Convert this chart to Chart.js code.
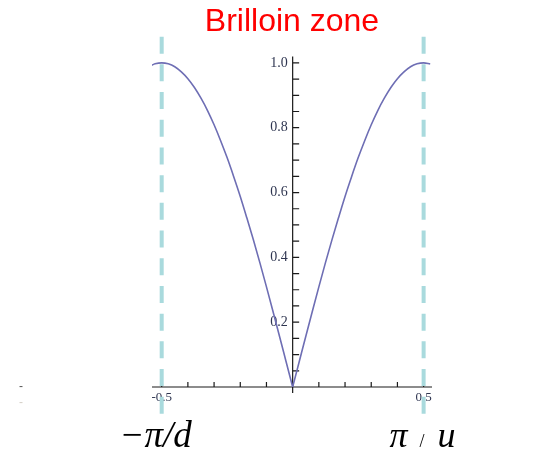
<!DOCTYPE html>
<html>
<head>
<meta charset="utf-8">
<script src="https://cdn.jsdelivr.net/npm/chart.js@4/dist/chart.umd.min.js"></script>
<style>
  html, body { margin: 0; padding: 0; background: #fff; }
</style>
</head>
<body>
<canvas id="zona" width="553" height="460"></canvas>
<script>
// |sin(k d / 2)| across the first zone, split at the cusp
const kLeft = [-0.54, -0.525, -0.5, -0.475, -0.45, -0.425, -0.4, -0.375, -0.35, -0.325, -0.3,
  -0.275, -0.25, -0.225, -0.2, -0.175, -0.15, -0.125, -0.1, -0.075, -0.05, -0.025, 0];
const bandLeft = [0.992, 0.997, 1.0, 0.997, 0.988, 0.972, 0.951, 0.924, 0.891, 0.853, 0.809,
  0.760, 0.707, 0.649, 0.588, 0.522, 0.454, 0.383, 0.309, 0.233, 0.156, 0.078, 0];
const kRight = [0, 0.025, 0.05, 0.075, 0.1, 0.125, 0.15, 0.175, 0.2, 0.225, 0.25, 0.275, 0.3,
  0.325, 0.35, 0.375, 0.4, 0.425, 0.45, 0.475, 0.5, 0.525];
const bandRight = [0, 0.078, 0.156, 0.233, 0.309, 0.383, 0.454, 0.522, 0.588, 0.649, 0.707, 0.760, 0.809,
  0.853, 0.891, 0.924, 0.951, 0.972, 0.988, 0.997, 1.0, 0.997];

const zoneEdges = [-0.5, 0.5];
const xTicks = [-0.5, -0.4, -0.3, -0.2, -0.1, 0.1, 0.2, 0.3, 0.4, 0.5];
const xTickLabels = ['-0.5', '0.5'];
const yTicks = [0.05, 0.1, 0.15, 0.2, 0.25, 0.3, 0.35, 0.4, 0.45, 0.5,
  0.55, 0.6, 0.65, 0.7, 0.75, 0.8, 0.85, 0.9, 0.95, 1.0];
const yTickLabels = ['0.2', '0.4', '0.6', '0.8', '1.0'];

const branch = (ks, vals) => ({
  data: ks.map((k, i) => ({ x: k, y: vals[i] })),
  showLine: true,
  borderColor: '#6e6eb4',
  borderWidth: 1.6,
  pointRadius: 0,
  cubicInterpolationMode: 'monotone'
});

const edgeLines = zoneEdges.map(k => ({
  data: [{ x: k, y: 1.081 }, { x: k, y: -0.084 }],
  showLine: true,
  borderColor: '#a9dadd',
  borderWidth: 4,
  borderDash: [17, 10.7],
  pointRadius: 0,
  clip: false
}));

// axes crossing at the origin, ticks on the inside
const centerAxes = {
  id: 'centerAxes',
  beforeDatasetsDraw(chart) {
    const { ctx, chartArea, scales: { x, y } } = chart;
    const x0 = x.getPixelForValue(0);
    const y0 = y.getPixelForValue(0);
    ctx.save();
    ctx.strokeStyle = '#1a1a1a';
    ctx.lineWidth = 1.2;
    ctx.beginPath();
    ctx.moveTo(chartArea.left, y0);
    ctx.lineTo(chartArea.right, y0);
    ctx.moveTo(x0, chartArea.top);
    ctx.lineTo(x0, y0 + 6);
    xTicks.forEach(v => {
      const px = x.getPixelForValue(v);
      ctx.moveTo(px, y0);
      ctx.lineTo(px, y0 - 5);
    });
    yTicks.forEach(v => {
      const py = y.getPixelForValue(v);
      ctx.moveTo(x0, py);
      ctx.lineTo(x0 + 6.5, py);
    });
    ctx.stroke();

    ctx.fillStyle = '#2e3550';
    ctx.font = '14px "Liberation Serif"';
    ctx.textAlign = 'right';
    ctx.textBaseline = 'middle';
    yTickLabels.forEach(t => {
      ctx.fillText(t, x0 - 5, y.getPixelForValue(parseFloat(t)));
    });
    ctx.textAlign = 'center';
    ctx.textBaseline = 'top';
    ctx.font = '13px "Liberation Serif"';
    xTickLabels.forEach(t => {
      ctx.fillText(t, x.getPixelForValue(parseFloat(t)), y0 + 4);
    });

    ctx.fillStyle = '#555';
    ctx.font = '12px "Liberation Sans"';
    ctx.textAlign = 'center';
    ctx.textBaseline = 'middle';
    ctx.fillText('-', 21, y0);
    ctx.fillStyle = '#d6d0c8';
    ctx.fillText('-', 21, y0 + 16);
    ctx.restore();
  },
  afterDraw(chart) {
    const { ctx, scales: { x } } = chart;
    const left = x.getPixelForValue(zoneEdges[0]);
    const right = x.getPixelForValue(zoneEdges[1]);
    ctx.save();
    ctx.fillStyle = '#000';
    ctx.textBaseline = 'alphabetic';
    ctx.textAlign = 'center';
    ctx.font = 'italic 37px "Liberation Serif"';
    ctx.fillText('\u2212\u03c0/d', left - 6, 447);

    ctx.textAlign = 'left';
    ctx.font = 'italic 36px "Liberation Serif"';
    ctx.fillText('\u03c0', right - 34, 447);
    ctx.font = '18px "Liberation Serif"';
    ctx.fillText('/', right - 4, 447);
    ctx.font = 'italic 36px "Liberation Serif"';
    ctx.fillText('u', right + 14, 447);
    ctx.restore();
  }
};

new Chart(document.getElementById('zona'), {
  type: 'scatter',
  data: {
    datasets: [branch(kLeft, bandLeft), branch(kRight, bandRight), ...edgeLines]
  },
  options: {
    responsive: false,
    animation: false,
    layout: { padding: { left: 152, right: 121, top: 0, bottom: 73 } },
    scales: {
      x: { type: 'linear', min: -0.537, max: 0.532, display: false },
      y: { type: 'linear', min: 0, max: 1.02, display: false }
    },
    plugins: {
      legend: { display: false },
      tooltip: { enabled: false },
      title: {
        display: true,
        text: 'Brilloin zone',
        color: '#ff0000',
        font: { family: 'Liberation Sans', size: 32, weight: 'normal' },
        padding: { top: 3, bottom: 15 }
      }
    }
  },
  plugins: [centerAxes]
});
</script>
</body>
</html>
